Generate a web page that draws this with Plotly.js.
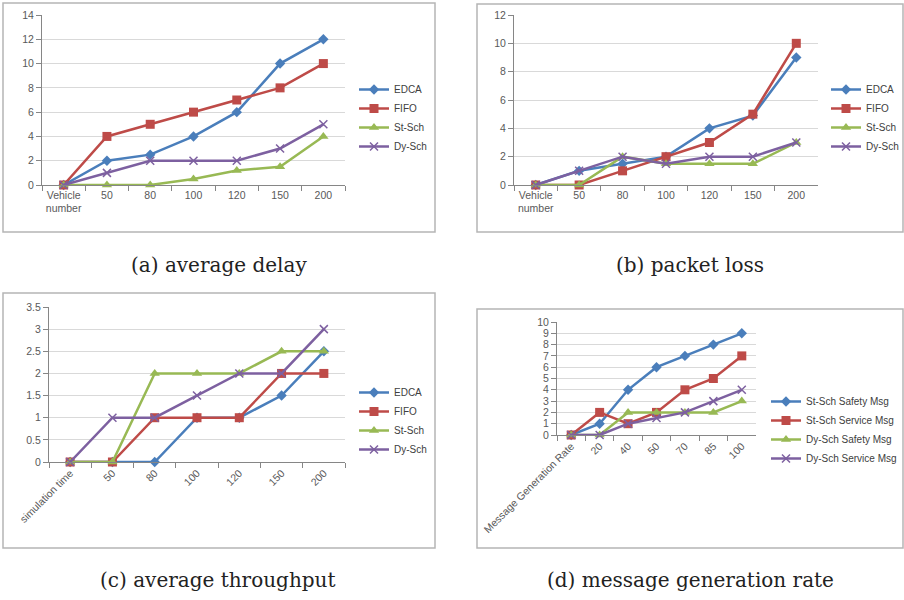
<!DOCTYPE html>
<html><head><meta charset="utf-8">
<script src="https://cdn.plot.ly/plotly-3.0.1.min.js"></script>
<style>html,body{margin:0;padding:0;background:#fff}#c{width:904px;height:600px}</style>
</head><body><div id="c"></div>
<script>
// ---- data ----
const catsA = ['Vehicle<br>number','50','80','100','120','150','200'];
const catsB = ['Vehicle<br>number','50','80','100','120','150','200'];
const catsC = ['simulation time','50','80','100','120','150','200'];
const catsD = ['Message Generation Rate','20','40','50','70','85','100'];

const namesABC = ['EDCA','FIFO','St-Sch','Dy-Sch'];
const namesD = ['St-Sch Safety Msg','St-Sch Service Msg','Dy-Sch Safety Msg','Dy-Sch Service Msg'];

const delayEDCA = [0,2,2.5,4,6,10,12];
const delayFIFO = [0,4,5,6,7,8,10];
const delayStSch = [0,0,0,0.5,1.2,1.5,4];
const delayDySch = [0,1,2,2,2,3,5];

const lossEDCA = [0,1,1.5,2,4,4.9,9];
const lossFIFO = [0,0,1,2,3,5,10];
const lossStSch = [0,0,2,1.5,1.5,1.5,3];
const lossDySch = [0,1,2,1.5,2,2,3];

const thrEDCA = [0,0,0,1,1,1.5,2.5];
const thrFIFO = [0,0,1,1,1,2,2];
const thrStSch = [0,0,2,2,2,2.5,2.5];
const thrDySch = [0,1,1,1.5,2,2,3];

const mgrStSafety = [0,1,4,6,7,8,9];
const mgrStService = [0,2,1,2,4,5,7];
const mgrDySafety = [0,0,2,2,2,2,3];
const mgrDyService = [0,0,1,1.5,2,3,4];

const captions = ['(a) average delay','(b) packet loss','(c) average throughput','(d) message generation rate'];

// ---- styles ----
const W = 904, H = 600;
const colors = ['#4a7ebb','#be4b48','#98b954','#7d60a0'];
const symbols = ['diamond','square','triangle-up','x-thin'];
const msizes = [8,9,9,8];
const fx = v => v / W;
const fy = v => 1 - v / H;

function series(x, ys, names, xa, ya, leg) {
  return ys.map((y, i) => ({
    type: 'scatter', mode: 'lines+markers', x: x, y: y, name: names[i],
    xaxis: xa, yaxis: ya, legend: leg, cliponaxis: false,
    line: {color: colors[i], width: 2.5},
    marker: {symbol: symbols[i], size: msizes[i], color: colors[i],
             line: {color: colors[i], width: symbols[i] === 'x-thin' ? 1.5 : 0}}
  }));
}

const traces = [].concat(
  series(catsA, [delayEDCA, delayFIFO, delayStSch, delayDySch], namesABC, 'x', 'y', 'legend'),
  series(catsB, [lossEDCA, lossFIFO, lossStSch, lossDySch], namesABC, 'x2', 'y2', 'legend2'),
  series(catsC, [thrEDCA, thrFIFO, thrStSch, thrDySch], namesABC, 'x3', 'y3', 'legend3'),
  series(catsD, [mgrStSafety, mgrStService, mgrDySafety, mgrDyService], namesD, 'x4', 'y4', 'legend4')
);

const tickFont = {family: 'Liberation Sans, Arial, sans-serif', size: 10.5, color: '#595959'};
function xax(x0, x1, y1, anchor, angle) {
  return {domain: [fx(x0), fx(x1)], anchor: anchor, type: 'category', range: [-0.5, 6.5],
    tickson: 'boundaries', ticks: 'outside', ticklen: 5, tickcolor: '#868686',
    showline: true, linecolor: '#868686', linewidth: 1, showgrid: false, zeroline: false,
    tickangle: angle, tickfont: tickFont, automargin: false, fixedrange: true};
}
function yax(y0, y1, anchor, max, dtick) {
  return {domain: [fy(y1), fy(y0)], anchor: anchor, range: [0, max], dtick: dtick,
    ticks: 'outside', ticklen: 5, tickcolor: '#868686', showline: true, linecolor: '#868686',
    linewidth: 1, showgrid: true, gridcolor: '#d9d9d9', gridwidth: 1, zeroline: false,
    tickfont: tickFont, automargin: false, fixedrange: true};
}
function leg(x, y) {
  return {x: fx(x), y: fy(y), xanchor: 'left', yanchor: 'middle', bgcolor: 'rgba(0,0,0,0)',
    font: {family: 'Liberation Sans, Arial, sans-serif', size: 10, color: '#404040'},
    tracegroupgap: 0, itemwidth: 30};
}
function box(x0, y0, x1, y1) {
  return {type: 'rect', xref: 'paper', yref: 'paper', x0: fx(x0), x1: fx(x1), y0: fy(y1), y1: fy(y0),
    line: {color: '#b5b5b5', width: 1.5}, fillcolor: 'rgba(0,0,0,0)', layer: 'below'};
}
const capFont = {family: 'DejaVu Serif, serif', size: 20, color: '#222'};
function cap(i, x, y) {
  return {text: captions[i], xref: 'paper', yref: 'paper', x: fx(x), y: fy(y),
    xanchor: 'center', yanchor: 'middle', showarrow: false, font: capFont};
}

const layout = {
  width: W, height: H, margin: {l: 0, r: 0, t: 0, b: 0},
  paper_bgcolor: '#fff', plot_bgcolor: 'rgba(0,0,0,0)', showlegend: true,
  xaxis: xax(42, 345, 185, 'y', 0),
  yaxis: yax(15, 185, 'x', 14, 2),
  xaxis2: xax(514, 818, 185, 'y2', 0),
  yaxis2: yax(15, 185, 'x2', 12, 2),
  xaxis3: xax(49, 345, 462, 'y3', -45),
  yaxis3: yax(307, 462, 'x3', 3.5, 0.5),
  xaxis4: xax(557, 756, 435, 'y4', -45),
  yaxis4: yax(322, 435, 'x4', 10, 1),
  legend: leg(354, 118),
  legend2: leg(826, 118),
  legend3: leg(354, 421),
  legend4: leg(766, 430),
  shapes: [box(3, 3, 435, 232), box(477, 4, 903, 232), box(3, 293, 435, 548), box(477, 309, 903, 548)],
  annotations: [cap(0, 219, 265), cap(1, 690, 265), cap(2, 218, 580), cap(3, 690, 580)]
};

Plotly.newPlot('c', traces, layout, {displayModeBar: false, staticPlot: true});
</script></body></html>
